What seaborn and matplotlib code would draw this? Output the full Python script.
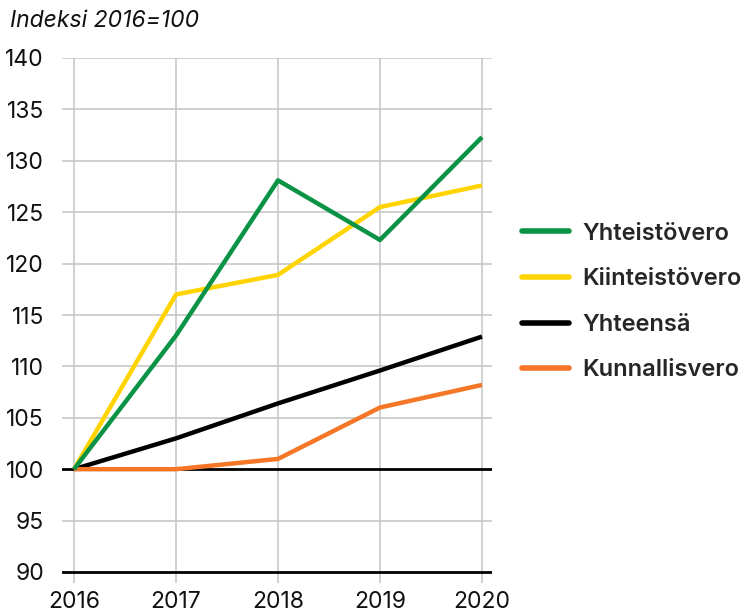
import matplotlib
matplotlib.use('Agg')
import matplotlib.pyplot as plt
import seaborn as sns
import pandas as pd

# Data (index 2016 = 100)
years = [2016, 2017, 2018, 2019, 2020]
series_names = ['Yhteistövero', 'Kiinteistövero', 'Yhteensä', 'Kunnallisvero']
yhteisovero = [100, 113.0, 128.1, 122.3, 132.3]
kiinteistovero = [100, 117.0, 118.9, 125.5, 127.6]
yhteensa = [100, 103.0, 106.4, 109.6, 112.9]
kunnallisvero = [100, 100.0, 101.0, 106.0, 108.2]
colors = ['#0a9245', '#ffd400', '#000000', '#f47626']
y_ticks = [90, 95, 100, 105, 110, 115, 120, 125, 130, 135, 140]

values = [yhteisovero, kiinteistovero, yhteensa, kunnallisvero]
rows = []
for name, vals in zip(series_names, values):
    for year, v in zip(years, vals):
        rows.append({'Vuosi': year, 'Indeksi': v, 'Vero': name})
df = pd.DataFrame(rows)

sns.set_style('white')
plt.rcParams['font.family'] = ['Inter', 'DejaVu Sans']

fig = plt.figure(figsize=(7.45, 6.13), dpi=100)
ax = fig.add_axes([62 / 745, 1 - 583 / 613, 430 / 745, (583 - 58) / 613])

sns.lineplot(data=df, x='Vuosi', y='Indeksi', hue='Vero', hue_order=series_names,
             palette=colors, linewidth=3.2, ax=ax, legend=False, zorder=3)

# green on top where it crosses the yellow line
for line, z in zip(ax.get_lines(), [5, 4, 4, 4]):
    line.set_zorder(z)
    line.set_solid_capstyle('butt')

ax.set_xlim(2016 - 12 / 102, 2020 + 10 / 102)
ax.set_ylim(90 - 11 / 10.28, 140)
ax.set_xticks(years)
ax.set_yticks(y_ticks)
ax.set_xlabel('')
ax.set_ylabel('')
for s in ax.spines.values():
    s.set_visible(False)

ax.grid(True, color='#c8c8c8', linewidth=1.2, zorder=0)
for tick_val, gl in zip(y_ticks, ax.get_ygridlines()):
    if tick_val in (90, 100):
        gl.set_color('black')
        gl.set_linewidth(2.0)

ax.tick_params(axis='both', length=0, labelsize=16.5, colors='#111111')
ax.tick_params(axis='y', pad=13)
ax.tick_params(axis='x', pad=6)

fig.text(10 / 745, 1 - 21 / 613, 'Indeksi 2016=100', fontsize=16.5, style='italic',
         ha='left', va='center', color='#111111')

handles = [plt.Line2D([0], [0], color=c, linewidth=4, solid_capstyle='round') for c in colors]
leg = fig.legend(handles, series_names, loc='center left',
                 bbox_to_anchor=(522 / 745, 1 - 302 / 613), frameon=False,
                 fontsize=17, handlelength=2.0, handletextpad=0.55, labelspacing=1.0,
                 borderpad=0, borderaxespad=0)
for t in leg.get_texts():
    t.set_fontweight('semibold')

fig.savefig('out.png', dpi=100)
